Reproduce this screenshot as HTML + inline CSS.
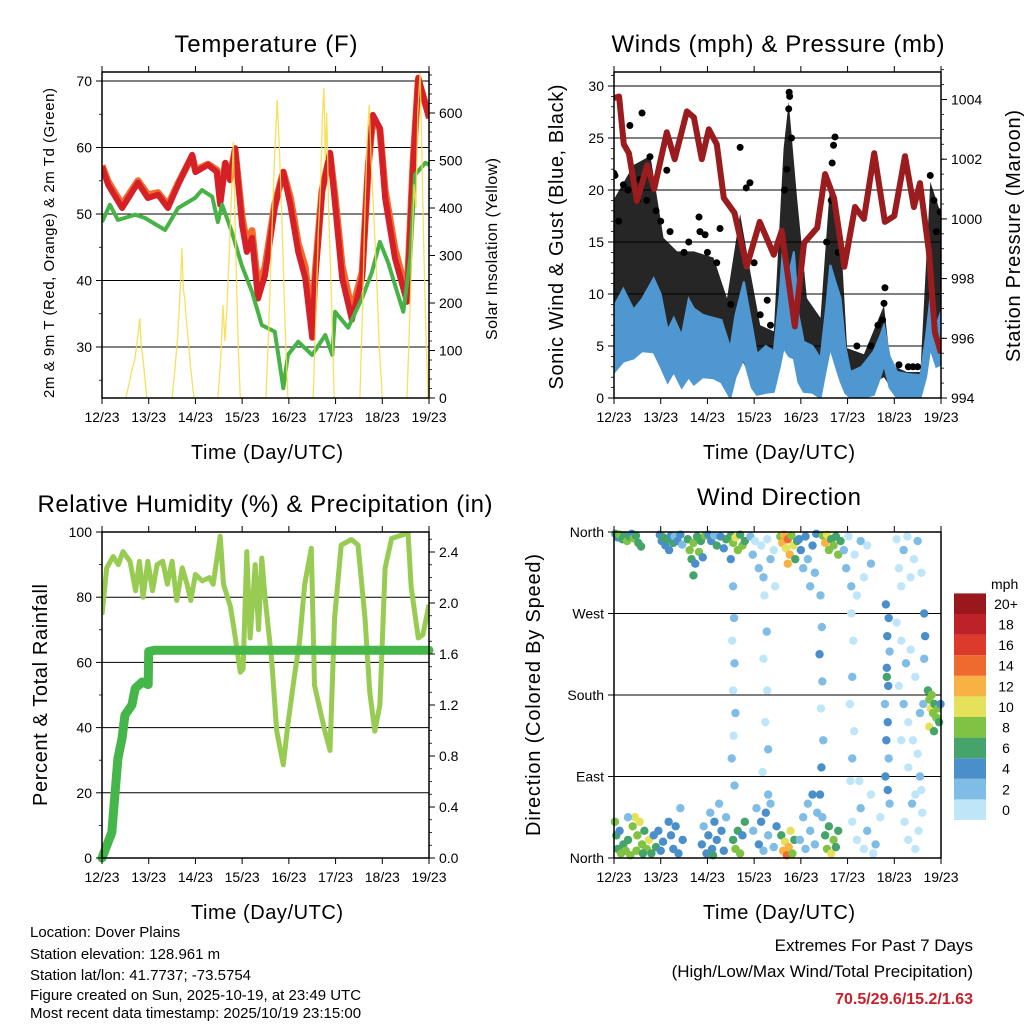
<!DOCTYPE html>
<html><head><meta charset="utf-8"><style>
html,body{margin:0;padding:0;background:#fff;}
svg{display:block;font-family:"Liberation Sans",Arial,sans-serif;}
</style></head><body>
<svg id="chart" width="1024" height="1024" viewBox="0 0 1024 1024" xmlns="http://www.w3.org/2000/svg">
<defs>
<clipPath id="cT"><rect x="102" y="72" width="327" height="326"/></clipPath>
<clipPath id="cW"><rect x="614" y="72" width="327" height="326"/></clipPath>
<clipPath id="cR"><rect x="102" y="532" width="327" height="326"/></clipPath>
<clipPath id="cD"><rect x="610" y="528" width="335" height="334"/></clipPath>
</defs>
<text x="266" y="52" font-size="24" text-anchor="middle" textLength="183">Temperature (F)</text>
<text x="778" y="52" font-size="24" text-anchor="middle" textLength="333">Winds (mph) &amp; Pressure (mb)</text>
<text x="265" y="512" font-size="24" text-anchor="middle" textLength="455">Relative Humidity (%) &amp; Precipitation (in)</text>
<text x="779" y="505" font-size="24" text-anchor="middle" textLength="164">Wind Direction</text>
<text x="267" y="459" font-size="20" text-anchor="middle" textLength="152">Time (Day/UTC)</text>
<text x="779" y="459" font-size="20" text-anchor="middle" textLength="152">Time (Day/UTC)</text>
<text x="267" y="919" font-size="20" text-anchor="middle" textLength="152">Time (Day/UTC)</text>
<text x="779" y="919" font-size="20" text-anchor="middle" textLength="152">Time (Day/UTC)</text>
<text transform="translate(54,243) rotate(-90)" font-size="15" text-anchor="middle" textLength="310">2m &amp; 9m T (Red, Orange) &amp; 2m Td (Green)</text>
<text transform="translate(497,249) rotate(-90)" font-size="16" text-anchor="middle" textLength="182">Solar Insolation (Yellow)</text>
<text transform="translate(563,237) rotate(-90)" font-size="20" text-anchor="middle" textLength="305">Sonic Wind &amp; Gust (Blue, Black)</text>
<text transform="translate(1020,236) rotate(-90)" font-size="20" text-anchor="middle" textLength="252">Station Pressure (Maroon)</text>
<text transform="translate(47,695) rotate(-90)" font-size="20" text-anchor="middle" textLength="222">Percent &amp; Total Rainfall</text>
<text transform="translate(540,695) rotate(-90)" font-size="20" text-anchor="middle" textLength="282">Direction (Colored By Speed)</text>
<g font-size="15">
<text x="30" y="937">Location: Dover Plains</text>
<text x="30" y="959">Station elevation: 128.961 m</text>
<text x="30" y="980">Station lat/lon: 41.7737; -73.5754</text>
<text x="30" y="1000">Figure created on Sun, 2025-10-19, at 23:49 UTC</text>
<text x="30" y="1018">Most recent data timestamp: 2025/10/19 23:15:00</text>
</g>
<g text-anchor="end">
<text x="973" y="951" font-size="17">Extremes For Past 7 Days</text>
<text x="973" y="977" font-size="17">(High/Low/Max Wind/Total Precipitation)</text>
<text x="973" y="1004" font-size="16" font-weight="bold" fill="#c8202a">70.5/29.6/15.2/1.63</text>
</g>
</svg>
<script>
// ---------- data ----------
const dayLabels = ['12/23','13/23','14/23','15/23','16/23','17/23','18/23','19/23'];
// Temperature (days, F)
const tempT = [0,0.13,0.43,0.77,0.98,1.2,1.41,1.63,1.93,2.0,2.27,2.46,2.53,2.64,2.74,2.85,3.0,3.1,3.21,3.34,3.49,3.7,3.88,4.03,4.2,4.35,4.5,4.56,4.71,4.88,4.99,5.14,5.35,5.57,5.7,5.8,5.95,6.06,6.27,6.53,6.66,6.77,7.0];
const temp2m = [57.1,54.4,50.9,54.7,52.4,52.9,50.9,54.4,58.9,56.3,57.4,56.3,51.4,57.7,55.1,59.9,48.3,44.3,46.4,37.3,40.8,50.9,56.3,51.4,44.3,40.4,31.4,39.8,53.3,59.2,51.4,40.4,34.1,40.4,57.4,64.9,62.9,52.4,43.4,36.8,57.4,70.5,64.4];
const temp9m = [57.3,54.9,51.4,55.0,52.9,53.2,51.3,54.6,58.7,56.6,57.5,56.6,52.0,57.6,55.6,59.6,49.5,45.6,47.5,39.0,42.0,51.5,56.3,52.5,45.6,42.0,33.0,40.8,53.5,59.0,52.6,42.2,35.4,41.3,57.2,64.5,62.7,53.6,44.8,37.8,57.8,70.2,64.8];
const dewT = [0,0.17,0.34,0.71,0.92,1.35,1.63,1.99,2.14,2.36,2.48,2.57,2.78,2.99,3.21,3.42,3.7,3.88,3.98,4.2,4.5,4.78,4.93,4.99,5.27,5.57,5.78,5.95,6.12,6.45,6.6,6.7,6.92,7.0];
const dewPt = [48.8,51.4,49.1,49.9,49.4,47.6,50.9,52.4,53.6,52.6,48.8,51.4,47.3,42.3,38.3,33.3,32.3,23.8,28.8,30.8,28.8,31.8,28.8,35.3,32.9,37.4,41.3,45.8,42.8,35.3,43.4,55.9,57.7,57.4];
const solT = [0,0.51,0.58,0.64,0.7,0.74,0.78,0.81,0.84,0.88,0.92,0.96,1.5,1.56,1.62,1.66,1.69,1.71,1.74,1.77,1.8,1.85,1.9,1.97,2.48,2.54,2.59,2.63,2.67,2.72,2.78,2.81,2.84,2.88,2.92,2.96,3.51,3.57,3.63,3.69,3.75,3.8,3.86,3.92,3.98,4.52,4.58,4.63,4.68,4.72,4.75,4.78,4.81,4.85,4.9,4.97,5.52,5.58,5.63,5.68,5.72,5.76,5.82,5.88,5.94,6.0,6.53,6.58,6.63,6.68,6.72,6.76,6.81,6.84,6.88,6.93,6.98,7.0];
const solV = [0,0,30,60,80,110,140,168,110,80,40,0,0,60,130,200,260,316,230,210,170,120,60,0,0,80,196,120,180,300,450,539,400,250,100,0,0,150,330,500,627,520,350,150,0,0,180,350,450,600,653,500,600,400,250,0,0,200,400,550,617,500,380,250,100,0,0,150,300,450,400,600,686,550,350,150,0,0];
// Winds
const windT = [0.01,0.2,0.42,0.6,0.85,1.0,1.15,1.28,1.45,1.6,1.71,1.9,2.13,2.3,2.49,2.6,2.78,2.95,3.06,3.25,3.42,3.55,3.63,3.75,3.85,3.95,4.06,4.25,4.42,4.55,4.63,4.75,4.85,4.95,5.06,5.3,5.56,5.7,5.78,5.9,6.06,6.3,6.56,6.68,6.77,6.9,7.0];
const windHi = [8.9,10.5,8.5,9.5,11.5,10,6.5,7.7,6,9.5,8.6,8,7.7,7.5,4.8,8,11.2,7,4.2,5,4.5,10,15.4,12,14.1,8,5.4,5,3.8,9,12.8,11,9.6,5,2.5,3,4.5,6,7,4,2.5,2.3,2.2,6,9.6,7,8.3];
const windLo = [2.5,3.5,3.8,4.5,4.4,3,1.5,2.5,1,2,1.3,2,1.9,1.5,0,2,3.8,1,0.3,0.5,0.6,3,4.8,4,3.8,1.5,0.6,0.5,0,3,4.8,3,1.6,0.5,0,0,0.3,2,3.2,1,0,0,0,2,4.8,3,3.2];
const gustT = [0.01,0.42,0.78,1.06,1.35,1.71,2.13,2.42,2.7,2.92,3.13,3.42,3.63,3.74,3.92,4.13,4.42,4.63,4.85,4.99,5.35,5.78,5.92,6.27,6.56,6.77,7.0];
const gustHi = [19.2,22.4,23.3,15.4,14.1,14.1,13.5,9.6,17.7,12.1,7.0,6.4,24,28.5,19.2,9.6,7.7,20.8,16,4.8,4.2,8.9,3.2,2.5,2.5,20.8,17.7];
const gustLo = [5,6,6,3,3,3,3,1,4,2,1,1,6,8,5,2,1,5,5,1,1,2,1,1,1,5,5];
const gustDotT = [0.6,0.34,0,2.7,2.91,2.83,3.75,3.76,3.74,4.73,4.7,4.67,1.82,1.84,2.27,5.8,5.78,6.77,6.98,1.13,0.02,0.77,1.95,3.13,3.28,0.2,0.5,0.9,1.0,3.8,3.7,4.65,6.85,5.75,6.1,6.4,0.1,0.3,0.55,0.7,1.2,1.5,1.6,2.0,2.2,2.5,3.0,3.35,3.65,4.0,4.55,4.8,5.2,5.5,5.65,6.3,6.5,6.9];
const gustDotV = [27.4,26.2,21.6,24.1,20.7,20.2,29.4,29.0,27.8,25.1,24.3,22.6,17.4,16.0,16.3,10.6,9.1,21.4,17.9,21.9,21.4,23.2,15.7,8.0,9.4,20.5,19,18,17,25,22,19,19,7.5,3.2,3.0,17,20,21,19,16,14,15,14,13,9,13,7,20,12,15,14,5,5,7,3,3,16];
const presT = [0,0.11,0.21,0.32,0.49,0.71,0.86,1.13,1.3,1.56,1.71,1.88,2.03,2.2,2.35,2.58,2.84,3.12,3.42,3.59,3.87,4.07,4.35,4.52,4.71,4.93,5.16,5.35,5.57,5.8,6.0,6.23,6.42,6.55,6.74,6.87,7.0];
const presV = [1004.05,1004.1,1002.5,1002.2,1000.6,1001.8,1001.0,1002.9,1002.0,1003.6,1003.4,1002.0,1003.0,1002.5,1000.7,1000.2,998.4,999.9,998.8,999.6,996.4,999.2,999.7,1001.5,1000.7,998.4,1000.4,1000.0,1002.2,999.9,1000.1,1002.1,1000.4,1001.2,998.9,996.2,995.5];
// RH & precip
const rhT = [0,0.1,0.24,0.35,0.45,0.6,0.72,0.8,0.88,0.98,1.08,1.18,1.3,1.4,1.5,1.6,1.72,1.82,1.9,2.0,2.15,2.3,2.38,2.53,2.6,2.75,2.85,2.96,3.02,3.1,3.17,3.28,3.35,3.42,3.49,3.63,3.74,3.81,3.88,3.98,4.12,4.23,4.34,4.48,4.55,4.77,4.88,4.98,5.12,5.34,5.48,5.63,5.73,5.84,5.95,6.06,6.2,6.55,6.62,6.77,6.87,7.0];
const rhV = [74.6,89,92.5,90,94,91,82,91,80,91,82,90,91,84,91,79,89,84,79,87,85,86,84,98.7,84,77,68,57,58,94,67.5,90,70,92,80,61,39,33.7,28.6,41,56,66.5,84,95,53,39,33,73.6,96,97.7,96,73.6,51,38.9,47,89,98,99.7,83,67.5,68.5,77.7];
const prT = [0,0.21,0.34,0.43,0.49,0.64,0.71,0.86,0.99,1.0,1.13,7.0];
const prV = [0,0.2,0.78,0.94,1.12,1.2,1.33,1.38,1.36,1.62,1.63,1.63];
// Wind direction observations [day, direction deg, speed mph]
const dirObs = [
[0.03,358,6],[0.08,354,4],[0.12,357,8],[0.18,352,7],[0.22,356,6],[0.28,350,8],[0.33,355,7],[0.38,358,5],[0.42,353,8],[0.47,356,6],[0.52,348,7],[0.58,344,6],
[0.98,357,4],[1.02,350,4],[1.06,354,6],[1.1,345,4],[1.14,352,6],[1.18,340,4],[1.22,356,4],[1.27,348,6],[1.3,355,2],[1.36,350,4],[1.42,357,4],[1.46,346,2],
[1.58,352,6],[1.62,340,8],[1.66,330,6],[1.7,348,8],[1.74,325,4],[1.78,355,6],[1.82,338,8],[1.86,350,6],[1.9,332,4],[1.95,356,8],[1.7,312,6],
[2.02,357,4],[2.08,350,4],[2.15,356,2],[2.2,345,6],[2.28,355,4],[2.35,342,4],[2.4,352,6],
[2.5,356,6],[2.55,348,8],[2.6,354,10],[2.65,340,8],[2.7,357,6],[2.75,345,8],[2.8,350,6],[2.5,330,4],
[2.92,355,2],[2.97,335,2],[3.02,350,0],[3.1,320,2],[3.15,345,0],[3.2,310,2],[3.28,352,0],[3.35,330,2],[3.42,340,0],[3.45,300,0],
[3.56,355,8],[3.6,348,12],[3.64,357,12],[3.68,342,10],[3.72,352,14],[3.76,335,12],[3.8,356,8],[3.84,345,10],[3.88,330,6],[3.72,325,12],[3.92,350,6],
[3.96,352,4],[4.0,340,4],[4.05,320,2],[4.1,355,4],[4.15,330,2],[4.2,300,2],[4.25,345,4],[4.3,315,2],[4.33,358,4],
[4.47,356,8],[4.52,348,12],[4.56,357,10],[4.6,340,8],[4.65,352,6],[4.7,345,8],[4.75,355,6],[4.8,335,8],[4.85,350,6],
[4.92,340,2],[4.97,320,2],[5.02,355,0],[5.08,300,2],[5.15,335,0],[5.2,290,0],[5.28,350,2],[5.35,310,0],[5.42,345,0],[5.5,325,2],
[6.05,352,0],[6.1,320,0],[6.15,300,0],[6.2,340,2],[6.28,355,0],[6.35,310,0],[6.42,330,0],[6.5,350,2],[6.58,315,0],
[2.55,300,2],[2.57,265,2],[2.53,240,0],[2.58,215,2],[2.55,185,0],[2.6,160,2],[2.56,135,0],[2.52,110,2],[2.58,80,2],
[3.22,290,0],[3.27,250,2],[3.2,220,0],[3.28,185,0],[3.24,150,0],[3.3,120,2],[3.18,95,0],[3.3,70,2],
[4.42,290,2],[4.45,255,2],[4.4,225,4],[4.46,195,2],[4.43,165,0],[4.48,130,2],[4.44,100,4],[4.41,70,4],[4.46,45,2],
[5.08,270,0],[5.12,240,0],[5.1,200,2],[5.05,170,0],[5.14,140,0],[5.1,110,2],[5.06,85,0],
[5.82,280,4],[5.88,265,4],[5.85,245,4],[5.9,228,2],[5.84,210,4],[5.87,190,4],[5.8,170,2],[5.86,150,4],[5.83,130,4],[5.88,110,2],[5.81,90,4],[5.86,75,4],[5.9,60,2],[5.84,200,6],
[6.05,260,0],[6.15,240,0],[6.25,215,2],[6.35,230,0],[6.45,200,0],[6.1,190,0],[6.2,170,2],[6.3,150,0],[6.4,130,0],[6.5,115,0],[6.55,90,2],[6.45,70,0],[6.6,50,0],[6.3,100,0],[6.15,130,0],[6.55,160,2],
[6.64,270,4],[6.66,245,4],[6.64,220,2],[6.62,170,2],
[6.72,185,6],[6.75,175,8],[6.78,165,10],[6.8,180,8],[6.83,160,8],[6.86,170,6],[6.9,155,8],[6.93,165,8],[6.96,150,6],[6.99,170,4],[6.75,145,10],[6.85,140,6],
[0.02,40,8],[0.05,25,6],[0.08,10,6],[0.12,30,4],[0.15,5,8],[0.2,15,6],[0.25,8,8],[0.3,20,6],[0.35,3,8],[0.4,35,8],[0.45,45,10],[0.5,25,8],[0.55,40,10],[0.6,15,8],[0.65,30,6],[0.7,10,8],[0.75,20,10],[0.8,5,6],[0.85,25,4],[0.9,12,6],[0.95,30,4],[1.0,8,4],[1.05,18,4],[0.48,8,8],[0.62,5,6],[0.3,45,2],
[1.17,40,4],[1.22,25,4],[1.27,10,4],[1.32,35,4],[1.38,5,4],[1.42,55,2],[1.47,20,4],
[1.88,15,4],[1.92,35,2],[1.98,5,4],[2.02,25,4],[2.06,50,2],[2.1,10,4],[2.15,40,4],[2.2,20,4],[2.25,60,2],[2.3,30,4],[2.35,8,4],[2.4,45,2],[2.12,3,6],
[2.55,20,6],[2.6,10,8],[2.65,30,6],[2.7,5,8],[2.75,25,4],[2.8,40,6],
[2.98,30,2],[3.05,55,2],[3.1,15,4],[3.15,40,4],[3.2,8,2],[3.25,50,4],[3.3,25,2],[3.35,60,2],[3.42,12,2],[3.48,35,4],
[3.58,25,6],[3.62,8,12],[3.66,18,10],[3.7,3,14],[3.74,12,12],[3.78,30,10],[3.82,5,8],[3.86,20,6],
[3.98,20,2],[4.05,45,2],[4.1,10,2],[4.15,60,2],[4.2,30,2],[4.25,70,4],[4.3,15,2],[4.35,50,2],
[4.52,25,6],[4.56,10,8],[4.6,35,6],[4.65,5,10],[4.7,20,8],[4.75,12,6],[4.8,30,6],
[5.1,40,0],[5.2,20,0],[5.28,55,2],[5.35,10,0],[5.42,30,2],[5.5,70,0],[5.6,15,2],[5.7,45,0],[5.25,85,0],[5.55,5,0],
[6.22,40,0],[6.3,20,0],[6.38,60,2],[6.45,10,0],[6.52,30,0],[6.58,75,0]
];
const speedColors = ['#bfe6f8','#7fbde6','#4a8fca','#44a46a','#80c243','#e5e15b','#f8b243','#ef6a2f','#dc3a2b','#be2127','#9a181c'];
const speedLabels = ['0','2','4','6','8','10','12','14','16','18','20+'];

// ---------- helpers ----------
const NS = 'http://www.w3.org/2000/svg';
const svg = document.getElementById('chart');
function mk(tag, attrs, parent) {
  const e = document.createElementNS(NS, tag);
  for (const k in attrs) e.setAttribute(k, attrs[k]);
  (parent || svg).appendChild(e);
  return e;
}
function txt(s, attrs, parent) { const e = mk('text', attrs, parent); e.textContent = s; return e; }
const xL = t => 102 + t * 327 / 7;
const xR = t => 614 + t * 327 / 7;
const yT = v => 81 + (70 - v) * 6.65;
const ySol = v => 398 - v * 0.475;
const yW = v => 398 - v * 10.4;
const yP = p => 398 - (p - 994) * 29.85;
const yRH = v => 858 - v * 3.26;
const yPr = p => 858 - p * 127.5;
const yDir = d => 858 - d / 360 * 326;
function pts(ts, vs, fx, fy) { return ts.map((t, i) => fx(t).toFixed(1) + ',' + fy(vs[i]).toFixed(1)).join(' '); }

function frame(x0, y0, name) {
  const g = mk('g', {});
  
  
  mk('rect', {x: x0, y: y0, width: 327, height: 326, fill: 'none', stroke: '#000', 'stroke-width': 1.5}, g);
  dayLabels.forEach((lab, i) => {
    const x = x0 + i * 327 / 7;
    mk('line', {x1: x, x2: x, y1: y0 + 326, y2: y0 + 332, stroke: '#000', 'stroke-width': 1}, g);
    mk('line', {x1: x, x2: x, y1: y0, y2: y0 - 6, stroke: '#000', 'stroke-width': 1}, g);
    const l = txt(lab, {x: x, y: y0 + 350, 'font-size': 14, 'text-anchor': 'middle'}, g);
    
    
  });
  return g;
}
function leftTicks(g, x0, vals, fy, labels, minors) {
  vals.forEach((v, i) => {
    mk('line', {x1: x0 - 6, x2: x0, y1: fy(v), y2: fy(v), stroke: '#000'}, g);
    const l = txt(labels[i], {x: x0 - 10, y: fy(v) + 5, 'font-size': 14, 'text-anchor': 'end'}, g);
    
    
  });
  minors.forEach(v => mk('line', {x1: x0 - 3, x2: x0, y1: fy(v), y2: fy(v), stroke: '#000', 'stroke-width': 0.8}, g));
}
function rightTicks(g, x1, vals, fy, labels, minors) {
  vals.forEach((v, i) => {
    mk('line', {x1: x1, x2: x1 + 6, y1: fy(v), y2: fy(v), stroke: '#000'}, g);
    const l = txt(labels[i], {x: x1 + 10, y: fy(v) + 5, 'font-size': 14, 'text-anchor': 'start'}, g);
    
    
  });
  minors.forEach(v => mk('line', {x1: x1, x2: x1 + 3, y1: fy(v), y2: fy(v), stroke: '#000', 'stroke-width': 0.8}, g));
}
function grid(x0, vals, fy) {
  vals.forEach(v => mk('line', {x1: x0, x2: x0 + 327, y1: fy(v), y2: fy(v), stroke: '#000', 'stroke-width': 1}));
}
function range(a, b, s) { const r = []; for (let v = a; v <= b + 1e-9; v += s) r.push(+v.toFixed(3)); return r; }

// ---------- Temperature panel ----------
grid(102, [30, 40, 50, 60, 70], yT);
const gT = mk('g', {'clip-path': 'url(#cT)'});


const l9 = mk('polyline', {points: pts(tempT, temp9m, xL, yT), fill: 'none', stroke: '#f26b2a', 'stroke-width': 7, 'stroke-linejoin': 'round'}, gT);


const l2 = mk('polyline', {points: pts(tempT, temp2m, xL, yT), fill: 'none', stroke: '#d62027', 'stroke-width': 6, 'stroke-linejoin': 'round'}, gT);


const ld = mk('polyline', {points: pts(dewT, dewPt, xL, yT), fill: 'none', stroke: '#47b347', 'stroke-width': 4, 'stroke-linejoin': 'round'}, gT);


const ls = mk('polyline', {points: pts(solT, solV, xL, ySol), fill: 'none', stroke: '#f7dc4a', 'stroke-width': 1.3, opacity: 0.9}, gT);


const fT = frame(102, 72, 'temperature');
leftTicks(fT, 102, [30, 40, 50, 60, 70], yT, ['30', '40', '50', '60', '70'], [25, 35, 45, 55, 65]);
rightTicks(fT, 429, range(0, 600, 100), ySol, ['0', '100', '200', '300', '400', '500', '600'], range(20, 680, 20));

// ---------- Winds panel ----------
grid(614, [5, 10, 15, 20, 25, 30], yW);
const gW = mk('g', {'clip-path': 'url(#cW)'});


const gustBand = mk('polygon', {points: pts(gustT, gustHi, xR, yW) + ' ' + pts(gustT.slice().reverse(), gustLo.slice().reverse(), xR, yW), fill: '#000', opacity: 0.85}, gW);


const windBand = mk('polygon', {points: pts(windT, windHi, xR, yW) + ' ' + pts(windT.slice().reverse(), windLo.slice().reverse(), xR, yW), fill: '#4f97d1', stroke: '#4f97d1', 'stroke-width': 2, 'stroke-linejoin': 'miter'}, gW);


gustDotT.forEach((t, i) => {
  const c = mk('circle', {cx: xR(t), cy: yW(gustDotV[i]), r: 3.5, fill: '#000'}, gW);
  
  
});
const lp = mk('polyline', {points: pts(presT, presV, xR, yP), fill: 'none', stroke: '#9b1c1f', 'stroke-width': 6, 'stroke-linejoin': 'round'}, gW);


const fW = frame(614, 72, 'winds');
leftTicks(fW, 614, [0, 5, 10, 15, 20, 25, 30], yW, ['0', '5', '10', '15', '20', '25', '30'], range(1, 31, 1));
rightTicks(fW, 941, [994, 996, 998, 1000, 1002, 1004], yP, ['994', '996', '998', '1000', '1002', '1004'], range(994.5, 1005, 0.5));

// ---------- RH panel ----------
grid(102, [20, 40, 60, 80], yRH);
const gR = mk('g', {'clip-path': 'url(#cR)'});


const lrh = mk('polyline', {points: pts(rhT, rhV, xL, yRH), fill: 'none', stroke: '#97cb52', 'stroke-width': 5, 'stroke-linejoin': 'round'}, gR);


const lpr = mk('polyline', {points: pts(prT, prV, xL, yPr), fill: 'none', stroke: '#45b649', 'stroke-width': 9, 'stroke-linejoin': 'round', 'stroke-linecap': 'round'}, svg);


const fR = frame(102, 532, 'rh');
leftTicks(fR, 102, [0, 20, 40, 60, 80, 100], yRH, ['0', '20', '40', '60', '80', '100'], [10, 30, 50, 70, 90]);
rightTicks(fR, 429, [0, 0.4, 0.8, 1.2, 1.6, 2.0, 2.4], yPr, ['0.0', '0.4', '0.8', '1.2', '1.6', '2.0', '2.4'], range(0.1, 2.5, 0.1));

// ---------- Wind direction panel ----------
grid(614, [90, 180, 270], yDir);
const gD = mk('g', {'clip-path': 'url(#cD)'});


dirObs.forEach(o => {
  const bin = Math.min(10, Math.floor(o[2] / 2));
  const c = mk('circle', {cx: xR(o[0]), cy: yDir(o[1]), r: 4.2, fill: speedColors[bin]}, gD);
  
  
});
const fD = frame(614, 532, 'wind-direction');
leftTicks(fD, 614, [0, 90, 180, 270, 360], yDir, ['North', 'East', 'South', 'West', 'North'], []);

// colorbar
const cb = mk('g', {});


txt('mph', {x: 991, y: 589, 'font-size': 14}, cb);
speedColors.forEach((c, i) => {
  const y = 820 - (i + 1) * 20.6;
  const r = mk('rect', {x: 954, y: y, width: 32, height: 20.6, fill: c}, cb);
  
  
  const l = txt(speedLabels[i], {x: 1006, y: y + 15.5, 'font-size': 14, 'text-anchor': 'middle'}, cb);
  
  
});
</script>
</body></html>
